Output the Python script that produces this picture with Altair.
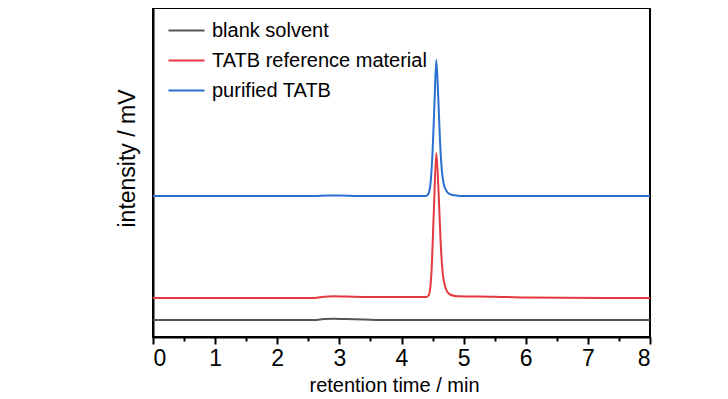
import altair as alt
import pandas as pd

series_names = ["blank solvent", "TATB reference material", "purified TATB"]
series_colors = ["#555555", "#e5393f", "#2b6fd1"]

blank_t = [0, 2.6, 2.75, 2.9, 3.1, 3.4, 3.8, 8]
blank_v = [17, 17, 18.0, 18.3, 18.0, 17.5, 17, 17]

ref_t = [0, 2.6, 2.75, 2.9, 3.1, 3.5, 4.0, 4.40, 4.44, 4.48, 4.52, 4.56,
         4.60, 4.63, 4.66, 4.70, 4.74, 4.80, 4.90, 5.5, 6.0, 8]
ref_v = [39, 39, 40.3, 40.8, 40.4, 40, 40, 40, 42, 62, 125, 184,
         140, 95, 66, 51, 45, 42, 40.8, 40.3, 39.5, 39]

pur_t = [0, 2.6, 2.8, 3.0, 3.3, 4.38, 4.42, 4.46, 4.50, 4.53, 4.56, 4.59,
         4.62, 4.65, 4.68, 4.72, 4.76, 4.82, 4.90, 5.0, 8]
pur_v = [141, 141, 141.6, 141.6, 141, 141, 142, 150, 185, 232, 277, 242,
         196, 166, 153, 146.5, 143.5, 142, 141.3, 141, 141]

x_ticks = [0, 1, 2, 3, 4, 5, 6, 7, 8]
x_minor = [0.5, 1.5, 2.5, 3.5, 4.5, 5.5, 6.5, 7.5]

rows = []
for name, ts, vs in zip(series_names, [blank_t, ref_t, pur_t], [blank_v, ref_v, pur_v]):
    for i, (t, v) in enumerate(zip(ts, vs)):
        rows.append({"series": name, "t": t, "v": v, "order": i})
df = pd.DataFrame(rows)

FONT = "Liberation Sans"

x_scale = alt.Scale(domain=[0, 8], nice=False, zero=False)
y_scale = alt.Scale(domain=[0, 329], nice=False)

lines = alt.Chart(df).mark_line(strokeWidth=2, interpolate="monotone").encode(
    x=alt.X("t:Q", scale=x_scale,
            axis=alt.Axis(values=x_ticks, title="retention time / min", format="d", orient="bottom",
                          labelFontSize=23, titleFontSize=20, labelFont=FONT, titleFont=FONT,
                          labelColor="black", titleColor="black", tickColor="black",
                          domainColor="black", domainWidth=2, tickWidth=2, tickSize=7,
                          labelPadding=3, titlePadding=5, titleX=241, titleAnchor="middle",
                          grid=False, titleFontWeight="normal")),
    y=alt.Y("v:Q", scale=y_scale,
            axis=alt.Axis(title="intensity / mV", labels=False, ticks=False, grid=False,
                          domainColor="black", domainWidth=2, titleFontSize=23, titleFont=FONT,
                          titleColor="black", titlePadding=14, titleY=150, titleAnchor="middle",
                          titleFontWeight="normal")),
    color=alt.Color("series:N", scale=alt.Scale(domain=series_names, range=series_colors),
                    legend=alt.Legend(title=None, orient="none", legendX=14, legendY=3,
                                      symbolType="stroke", symbolSize=1300, symbolStrokeWidth=2,
                                      labelFontSize=20, labelFont=FONT, labelColor="black",
                                      labelLimit=0, rowPadding=-11, labelOffset=6)),
    order="order:Q",
)

minor = alt.Chart(pd.DataFrame({"m": x_minor})).mark_point(opacity=0).encode(
    x=alt.X("m:Q", scale=x_scale,
            axis=alt.Axis(values=x_minor, labels=False, title=None, ticks=True, tickSize=4,
                          orient="bottom", tickWidth=2, tickColor="black", domain=False,
                          grid=False))
)

chart = alt.layer(lines, minor).resolve_axis(x="independent").properties(
    width=497, height=329,
    padding={"left": 108, "top": 0, "right": 5, "bottom": 5},
).configure_view(stroke="black", strokeWidth=2)

chart.save("out.html", embed_options={"renderer": "svg", "actions": False})
